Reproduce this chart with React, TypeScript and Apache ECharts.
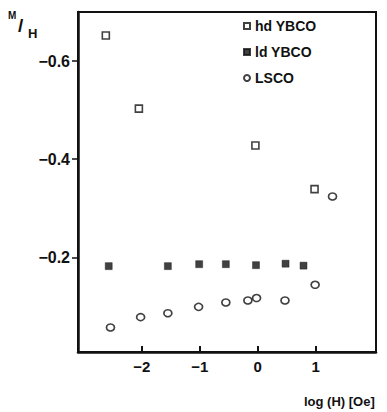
import React, { useEffect, useRef } from "react";
import * as echarts from "echarts";

// log(H) [Oe] and M/H values
const hdX = [-2.62, -2.05, -0.04, 0.98];
const hdY = [-0.652, -0.503, -0.428, -0.339];
const ldX = [-2.57, -1.55, -1.01, -0.55, -0.03, 0.48, 0.79];
const ldY = [-0.182, -0.182, -0.186, -0.186, -0.184, -0.187, -0.183];
const lsX = [-2.54, -2.02, -1.55, -1.02, -0.55, -0.17, -0.02, 0.47, 0.99, 1.29];
const lsY = [-0.057, -0.078, -0.086, -0.099, -0.108, -0.112, -0.117, -0.112, -0.144, -0.324];
const seriesNames = ["hd YBCO", "ld YBCO", "LSCO"];
const xTicks = [-2, -1, 0, 1];
const yTicks = [-0.6, -0.4, -0.2];

const FONT = "'Liberation Sans', Arial, sans-serif";
const INK = "#111";

const zip = (xs: number[], ys: number[]) => xs.map((x, i) => [x, ys[i]]);

export default function App() {
  const ref = useRef<HTMLDivElement>(null);
  useEffect(() => {
    if (!ref.current) return;
    const chart = echarts.init(ref.current, null, { renderer: "svg" });
    chart.setOption({
      animation: false,
      backgroundColor: "#fff",
      grid: {
        left: 78,
        top: 12,
        width: 298,
        height: 340,
        show: true,
        borderColor: INK,
        borderWidth: 2,
        backgroundColor: "transparent",
      },
      xAxis: {
        type: "value",
        min: -3.1,
        max: 2.04,
        axisLine: { show: true, onZero: false, lineStyle: { color: INK, width: 2.5 } },
        axisTick: { show: true, inside: true, length: 6, customValues: xTicks, lineStyle: { color: INK, width: 2 } },
        axisLabel: {
          customValues: xTicks,
          margin: 7,
          color: INK,
          fontFamily: FONT,
          fontWeight: "bold",
          fontSize: 15,
          formatter: (v: number) => String(v).replace("-", "\u2212"),
        },
        splitLine: { show: false },
      },
      yAxis: {
        type: "value",
        inverse: true,
        min: -0.7,
        max: -0.007,
        axisLine: { show: true, onZero: false, lineStyle: { color: INK, width: 2.5 } },
        axisTick: { show: true, inside: false, length: 6, customValues: yTicks, lineStyle: { color: INK, width: 1.5 } },
        axisLabel: {
          customValues: yTicks,
          margin: 8,
          color: INK,
          fontFamily: FONT,
          fontWeight: "bold",
          fontSize: 16,
          formatter: (v: number) => v.toFixed(1).replace("-", "\u2212"),
        },
        splitLine: { show: false },
      },
      legend: {
        orient: "vertical",
        left: 243,
        top: 19,
        padding: 0,
        itemGap: 12,
        itemWidth: 6,
        itemHeight: 6,
        data: seriesNames,
        textStyle: { color: INK, fontFamily: FONT, fontWeight: "bold", fontSize: 14, lineHeight: 14 },
      },
      series: [
        {
          name: seriesNames[0],
          type: "scatter",
          symbol: "rect",
          symbolSize: 7,
          itemStyle: { color: "#fff", borderColor: INK, borderWidth: 1.6 },
          data: zip(hdX, hdY),
        },
        {
          name: seriesNames[1],
          type: "scatter",
          symbol: "rect",
          symbolSize: 7,
          itemStyle: { color: INK, borderColor: INK, borderWidth: 0.5 },
          data: zip(ldX, ldY),
        },
        {
          name: seriesNames[2],
          type: "scatter",
          symbol: "circle",
          symbolSize: [8, 7],
          itemStyle: { color: "#fff", borderColor: INK, borderWidth: 1.6 },
          data: zip(lsX, lsY),
        },
      ],
      graphic: [
        { type: "text", left: 8, top: 10, style: { text: "M", fill: INK, font: `bold 10px ${FONT}` } },
        { type: "text", left: 18, top: 16, style: { text: "/", fill: INK, font: `bold 19px ${FONT}` } },
        { type: "text", left: 28, top: 27, style: { text: "H", fill: INK, font: `bold 13px ${FONT}` } },
        { type: "text", left: 304, top: 395, style: { text: "log (H) [Oe]", fill: INK, font: `bold 13px ${FONT}` } },
      ],
    });
    return () => chart.dispose();
  }, []);
  return (
    <div
      ref={ref}
      style={{ position: "fixed", left: 0, top: 0, width: 387, height: 412, background: "#fff" }}
    />
  );
}
